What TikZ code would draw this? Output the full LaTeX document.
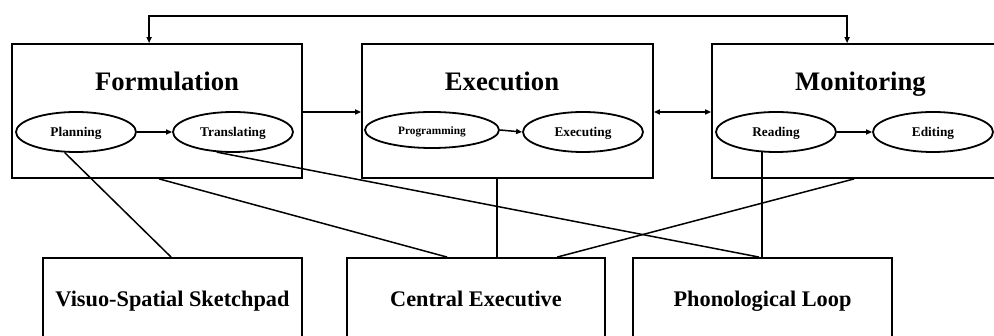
\documentclass[tikz,border=0pt]{standalone}
\usepackage{fontspec}
\setmainfont{Liberation Serif}
\usetikzlibrary{shapes.geometric,arrows.meta,calc}
\begin{document}
\begin{tikzpicture}[x=1pt,y=-1pt,
  stagebox/.style={draw, line width=1.8pt, rectangle, inner sep=0pt},
  subproc/.style={draw, line width=1.8pt, ellipse, inner sep=0pt,
    minimum width=120pt, minimum height=40pt, text depth=0pt,
    font=\bfseries\fontsize{13.3}{15}\selectfont},
  stagetitle/.style={anchor=base, inner sep=0pt,
    font=\bfseries\fontsize{26.7}{30}\selectfont},
  memtitle/.style={anchor=base, inner sep=0pt,
    font=\bfseries\fontsize{22.3}{26}\selectfont},
  link/.style={line width=1.5pt},
  flow/.style={line width=1.5pt, -{Triangle[length=6pt,width=5pt]}},
  biflow/.style={line width=1.5pt, {Triangle[length=6pt,width=5pt]}-{Triangle[length=6pt,width=5pt]}}
]
\useasboundingbox (0,0) rectangle (994,336);
\clip (0,0) rectangle (994,336);

% writing process stages
\node[stagebox, minimum width=290pt, minimum height=134pt] (form) at (157,111) {};
\node[stagebox, minimum width=291pt, minimum height=134pt] (exe) at (507.5,111) {};
\node[stagebox, minimum width=291pt, minimum height=134pt] (mon) at (857.5,111) {};

\node[stagetitle] (formt) at (167,91) {Formulation};
\node[stagetitle] (exet) at (502,91) {Execution};
\node[stagetitle] (mont) at (860.5,91) {Monitoring};

% sub-processes
\node[subproc] (plan) at (76,132) {Planning};
\node[subproc] (trans) at (233,132) {Translating};
\node[subproc, minimum width=134pt, minimum height=36pt,
  font=\bfseries\fontsize{11.3}{13}\selectfont] (prog) at (432,130) {\raisebox{-2pt}{Programming}};
\node[subproc] (exec) at (583,132) {Executing};
\node[subproc] (read) at (776,132) {Reading};
\node[subproc] (edit) at (933,132) {Editing};

% working memory components
\node[stagebox, minimum width=259pt, minimum height=110pt] (vss) at (172.5,313) {};
\node[stagebox, minimum width=258pt, minimum height=110pt] (cen) at (476,313) {};
\node[stagebox, minimum width=259pt, minimum height=110pt] (phon) at (762.5,313) {};

\node[memtitle] (vsst) at (172.5,307) {Visuo-Spatial Sketchpad};
\node[memtitle] (cent) at (476,307) {Central Executive};
\node[memtitle] (phont) at (762.5,307) {Phonological Loop};

% arrows between stages and sub-processes
\draw[flow] (plan) -- (trans);
\draw[flow] (prog.east) -- (exec.west);
\draw[flow] (read) -- (edit);
\draw[flow] (form.east |- 0,112) -- (exe.west |- 0,112);
\draw[biflow] (exe.east |- 0,112) -- (mon.west |- 0,112);

% feedback loop over the top
\coordinate (fbtop) at (500,16);
\coordinate (formin) at ($(form.north west)+(138,0)$);
\coordinate (monin) at ($(mon.north west)+(136,0)$);
\draw[biflow] (formin) |- (fbtop) -| (monin);

% links to working memory
\coordinate (formb) at ($(form.south west)+(148,0)$);
\coordinate (exeb) at ($(exe.south west)+(136,0)$);
\coordinate (monb) at ($(mon.south west)+(143,0)$);
\coordinate (vssa) at ($(vss.north west)+(129,0)$);
\coordinate (cena) at ($(cen.north west)+(101,0)$);
\coordinate (cenb) at ($(cen.north west)+(211,0)$);
\coordinate (phona) at ($(phon.north west)+(127,0)$);

\draw[link] (plan.241) -- (vssa);
\draw[link] (formb) -- (cena);
\draw[link] (trans.231) -- (phona);
\draw[link] (exeb) -- (exeb |- cen.north);
\draw[link] (monb) -- (cenb);
\draw[link] (read.235) -- (read.235 |- phon.north);
\end{tikzpicture}
\end{document}
